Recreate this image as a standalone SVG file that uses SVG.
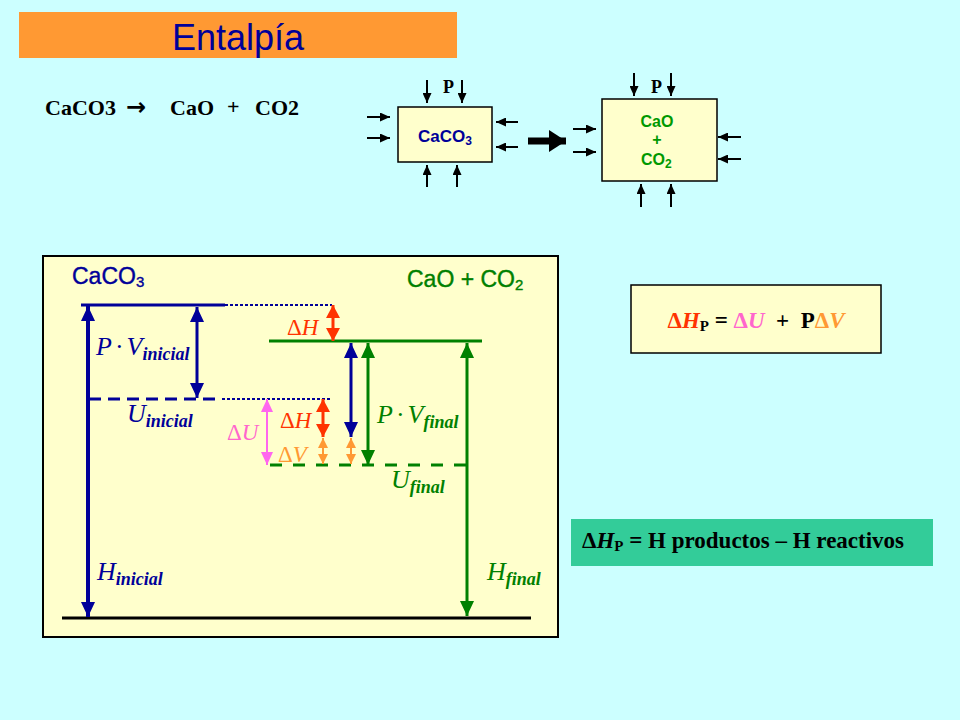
<svg xmlns="http://www.w3.org/2000/svg" width="960" height="720" viewBox="0 0 960 720">
<style>
.serif{font-family:"Liberation Serif","Times New Roman",serif}
.sans{font-family:"Liberation Sans",Arial,sans-serif}
.mi{font-family:"Liberation Serif","Times New Roman",serif;font-style:italic}
.sub{font-weight:bold;font-style:italic}
.navy{fill:#000099}
.grn{fill:#008000}
.pa{stroke:#000;stroke-width:2;fill:none;marker-end:url(#mBlack)}
</style>
<defs>
<marker id="mNavy" markerUnits="userSpaceOnUse" markerWidth="15" markerHeight="14" refX="15" refY="7" orient="auto-start-reverse"><path d="M0,0 L15,7 L0,14 z" fill="#000099"/></marker>
<marker id="mGreen" markerUnits="userSpaceOnUse" markerWidth="15" markerHeight="14" refX="15" refY="7" orient="auto-start-reverse"><path d="M0,0 L15,7 L0,14 z" fill="#008000"/></marker>
<marker id="mRed" markerUnits="userSpaceOnUse" markerWidth="13" markerHeight="14" refX="13" refY="7" orient="auto-start-reverse"><path d="M0,0 L13,7 L0,14 z" fill="#FF3300"/></marker>
<marker id="mPink" markerUnits="userSpaceOnUse" markerWidth="13" markerHeight="12" refX="13" refY="6" orient="auto-start-reverse"><path d="M0,0 L13,6 L0,12 z" fill="#FF66EE"/></marker>
<marker id="mOrange" markerUnits="userSpaceOnUse" markerWidth="10" markerHeight="10" refX="10" refY="5" orient="auto-start-reverse"><path d="M0,0 L10,5 L0,10 z" fill="#FF9933"/></marker>
<marker id="mBlack" markerUnits="userSpaceOnUse" markerWidth="10" markerHeight="9" refX="10" refY="4.5" orient="auto"><path d="M0,0 L10,4.5 L0,9 z" fill="#000"/></marker>
<marker id="mBig" markerUnits="userSpaceOnUse" markerWidth="17" markerHeight="22" refX="17" refY="11" orient="auto"><path d="M0,0 L17,11 L0,22 z" fill="#000"/></marker>
</defs>
<rect width="960" height="720" fill="#CCFFFF"/>

<g id="title">
<rect x="19" y="12" width="438" height="46" fill="#FF9933"/>
<text x="238" y="50" text-anchor="middle" class="sans" font-size="36" fill="#000099">Entalpía</text>
</g>

<g id="reaction">
<text x="45" y="115" class="serif" font-size="22" font-weight="bold" fill="#000">CaCO3</text>
<text x="126" y="115" font-family="'DejaVu Sans',sans-serif" font-size="24" font-weight="bold" fill="#000">→</text>
<text x="170" y="115" class="serif" font-size="22" font-weight="bold" fill="#000">CaO</text>
<text x="227" y="114" class="serif" font-size="22" font-weight="bold" fill="#000">+</text>
<text x="255" y="115" class="serif" font-size="22" font-weight="bold" fill="#000">CO2</text>
</g>

<g id="box-reactivo">
<rect x="398" y="107" width="94" height="55" fill="#FFFFCC" stroke="#000" stroke-width="1.5"/>
<text x="418" y="142" class="sans" font-size="17" font-weight="bold" fill="#000099">CaCO<tspan font-size="12" dy="3">3</tspan></text>
<text x="443" y="93" class="serif" font-size="18" font-weight="bold">P</text>
</g>

<g id="box-producto">
<rect x="602" y="99" width="115" height="82" fill="#FFFFCC" stroke="#000" stroke-width="1.5"/>
<text x="657" y="127" text-anchor="middle" class="sans" font-size="16" font-weight="bold" fill="#009900">CaO</text>
<text x="657" y="145" text-anchor="middle" class="sans" font-size="16" font-weight="bold" fill="#009900">+</text>
<text x="641" y="165" class="sans" font-size="16" font-weight="bold" fill="#009900">CO<tspan font-size="12" dy="3">2</tspan></text>
<text x="651" y="93" class="serif" font-size="18" font-weight="bold">P</text>
</g>

<g id="pressure-arrows">
<path class="pa" d="M427,80 V103"/>
<path class="pa" d="M462,80 V103"/>
<path class="pa" d="M367,117 H390"/>
<path class="pa" d="M367,138 H390"/>
<path class="pa" d="M518,122 H496"/>
<path class="pa" d="M518,147 H496"/>
<path class="pa" d="M427,187 V165"/>
<path class="pa" d="M457,187 V165"/>
<path class="pa" d="M634,73 V96"/>
<path class="pa" d="M671,73 V96"/>
<path class="pa" d="M573,129 H596"/>
<path class="pa" d="M573,152 H596"/>
<path class="pa" d="M741,137 H718"/>
<path class="pa" d="M741,159 H718"/>
<path class="pa" d="M641,207 V184"/>
<path class="pa" d="M671,207 V184"/>
<path d="M528,141 H566" stroke="#000" stroke-width="7" marker-end="url(#mBig)"/>
</g>

<g id="diagram-frame">
<rect x="43" y="256" width="515" height="381" fill="#FFFFCC" stroke="#000" stroke-width="2"/>
<text x="72" y="284" class="sans" font-size="23" fill="#000099" stroke="#000099" stroke-width="0.4">CaCO<tspan font-size="15" dy="3">3</tspan></text>
<text x="407" y="287" class="sans" font-size="23" fill="#008000" stroke="#008000" stroke-width="0.4">CaO + CO<tspan font-size="15" dy="3">2</tspan></text>
</g>

<g id="levels">
<path d="M81,305 H225" stroke="#000099" stroke-width="3"/>
<path d="M225,305 H332" stroke="#000099" stroke-width="2" stroke-dasharray="3,2"/>
<path d="M89,399 H222" stroke="#000099" stroke-width="3" stroke-dasharray="12,7"/>
<path d="M222,399 H332" stroke="#000099" stroke-width="2" stroke-dasharray="3,2"/>
<path d="M269,341 H482" stroke="#008000" stroke-width="3"/>
<path d="M270,465 H470" stroke="#008000" stroke-width="3" stroke-dasharray="12,11"/>
<path d="M62,618 H531" stroke="#000" stroke-width="3"/>
</g>

<g id="connectors">
<path d="M88,306 V617" stroke="#000099" stroke-width="4" marker-start="url(#mNavy)" marker-end="url(#mNavy)"/>
<path d="M197,307 V398" stroke="#000099" stroke-width="3" marker-start="url(#mNavy)" marker-end="url(#mNavy)"/>
<path d="M351,343 V437" stroke="#000099" stroke-width="3" marker-start="url(#mNavy)" marker-end="url(#mNavy)"/>
<path d="M368,343 V465" stroke="#008000" stroke-width="3" marker-start="url(#mGreen)" marker-end="url(#mGreen)"/>
<path d="M467,343 V616" stroke="#008000" stroke-width="3" marker-start="url(#mGreen)" marker-end="url(#mGreen)"/>
<path d="M333,305 V341" stroke="#FF3300" stroke-width="3" marker-start="url(#mRed)" marker-end="url(#mRed)"/>
<path d="M323,399 V437" stroke="#FF3300" stroke-width="3" marker-start="url(#mRed)" marker-end="url(#mRed)"/>
<path d="M267,399 V465" stroke="#FF66EE" stroke-width="2" marker-start="url(#mPink)" marker-end="url(#mPink)"/>
<path d="M323,438 V464" stroke="#FF9933" stroke-width="2" marker-start="url(#mOrange)" marker-end="url(#mOrange)"/>
<path d="M351,438 V464" stroke="#FF9933" stroke-width="2" marker-start="url(#mOrange)" marker-end="url(#mOrange)"/>
</g>

<g id="labels">
<text x="96" y="355" class="mi navy" font-size="26">P<tspan font-style="normal" dx="3">·</tspan><tspan dx="3">V</tspan><tspan class="sub" font-size="18" dy="5">inicial</tspan></text>
<text x="127" y="422" class="mi navy" font-size="26">U<tspan class="sub" font-size="18" dy="5">inicial</tspan></text>
<text x="97" y="580" class="mi navy" font-size="26">H<tspan class="sub" font-size="18" dy="5">inicial</tspan></text>
<text x="377" y="423" class="mi grn" font-size="26">P<tspan font-style="normal" dx="3">·</tspan><tspan dx="3">V</tspan><tspan class="sub" font-size="18" dy="5">final</tspan></text>
<text x="391" y="488" class="mi grn" font-size="26">U<tspan class="sub" font-size="18" dy="5">final</tspan></text>
<text x="487" y="580" class="mi grn" font-size="26">H<tspan class="sub" font-size="18" dy="5">final</tspan></text>
<text x="287" y="335" class="mi" font-size="23" fill="#FF3300"><tspan font-style="normal">Δ</tspan>H</text>
<text x="280" y="428" class="mi" font-size="23" fill="#FF3300"><tspan font-style="normal">Δ</tspan>H</text>
<text x="278" y="462" class="mi" font-size="23" fill="#FF9933"><tspan font-style="normal">Δ</tspan>V</text>
<text x="227" y="440" class="mi" font-size="23" fill="#FF66CC"><tspan font-style="normal">Δ</tspan>U</text>
</g>

<g id="formula-box">
<rect x="631" y="285" width="250" height="68" fill="#FFFFCC" stroke="#000" stroke-width="1.5"/>
<text x="756" y="328" text-anchor="middle" class="serif" font-size="23" font-weight="bold" xml:space="preserve"><tspan fill="#FF3300">Δ<tspan font-style="italic">H</tspan></tspan><tspan font-size="15" dy="3">P</tspan><tspan dy="-3"> = </tspan><tspan fill="#FF66CC">Δ<tspan font-style="italic">U</tspan></tspan><tspan>  +  P</tspan><tspan fill="#FF9933">Δ<tspan font-style="italic">V</tspan></tspan></text>
</g>

<g id="definition-box">
<rect x="571" y="519" width="362" height="47" fill="#33CC99"/>
<text x="582" y="548" class="serif" font-size="23" font-weight="bold" fill="#000">Δ<tspan font-style="italic">H</tspan><tspan font-size="15" dy="3">P</tspan><tspan dy="-3"> = H productos – H reactivos</tspan></text>
</g>
</svg>
